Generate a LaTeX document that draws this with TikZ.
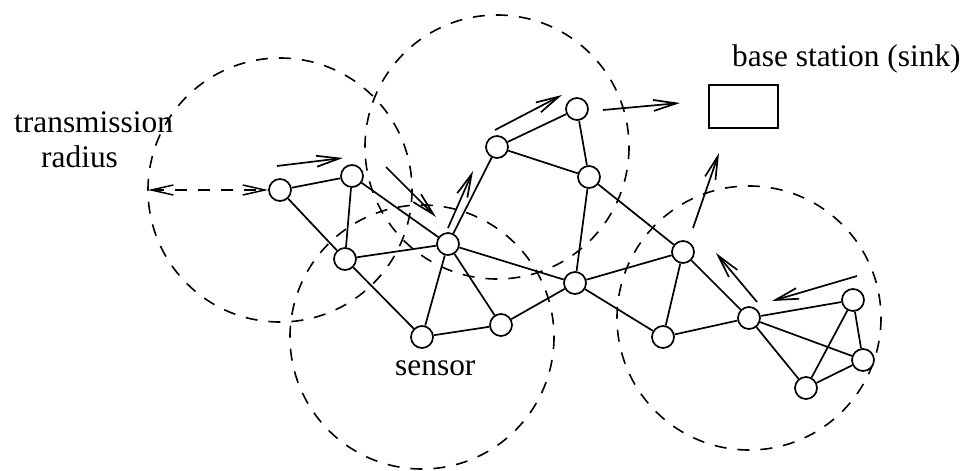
\documentclass[tikz,border=0pt]{standalone}
\usepackage{fontspec}
\setmainfont{Liberation Serif}
\usetikzlibrary{arrows.meta,backgrounds}
\begin{document}
\begin{tikzpicture}[x=1pt,y=-1pt,
  sensornode/.style={circle,draw,fill=white,line width=1.7pt,minimum size=22pt,inner sep=0pt},
  link/.style={line width=1.7pt},
  radiuscircle/.style={line width=1.6pt,dash pattern=on 12pt off 11pt},
  flow/.style={line width=1.7pt,-{Straight Barb[length=23pt,width=11pt]}},
  radiusarrow/.style={line width=1.5pt,dash pattern=on 12pt off 11pt,{Straight Barb[length=22pt,width=10pt]}-{Straight Barb[length=22pt,width=10pt]}},
  lbl/.style={font=\fontsize{31.4}{35}\selectfont,inner sep=0pt}]
\useasboundingbox (0,0) rectangle (967,471);

% sensors
\node[sensornode] (A) at (280,190) {};
\node[sensornode] (B) at (352,176) {};
\node[sensornode] (C) at (345,259) {};
\node[sensornode] (D) at (448,244) {};
\node[sensornode] (E) at (497,147) {};
\node[sensornode] (F) at (577,109) {};
\node[sensornode] (G) at (589,177) {};
\node[sensornode] (H) at (422,337) {};
\node[sensornode] (I) at (501,325) {};
\node[sensornode] (J) at (575,283) {};
\node[sensornode] (K) at (683,252) {};
\node[sensornode] (L) at (663,337) {};
\node[sensornode] (M) at (749,318) {};
\node[sensornode] (N) at (853,300) {};
\node[sensornode] (O) at (863,360) {};
\node[sensornode] (P) at (806,388) {};

% base station
\node[draw,line width=1.7pt,minimum width=69pt,minimum height=43pt,inner sep=0pt] (S) at (743.5,106.5) {};

% transmission ranges
\begin{scope}[on background layer]
\draw[radiuscircle] (A) circle[radius=132];
\draw[radiuscircle] (E) circle[radius=132];
\draw[radiuscircle] (H) circle[radius=132];
\draw[radiuscircle] (M) circle[radius=132];
\end{scope}

% links
\foreach \u/\v in {A/B,A/C,B/C,B/D,C/D,C/H,D/H,D/I,D/E,D/J,E/F,E/G,F/G,G/J,G/K,H/I,I/J,J/K,J/L,K/L,K/M,L/M,M/N,M/O,M/P,N/O,N/P,O/P}
  \draw[link] (\u) -- (\v);

% flow arrows
\coordinate (f1s) at (277,166); \coordinate (f1e) at (343,158);
\coordinate (f2s) at (386,167); \coordinate (f2e) at (436,217);
\coordinate (f3s) at (448,228); \coordinate (f3e) at (473,171);
\coordinate (f4s) at (495,130); \coordinate (f4e) at (562,95);
\coordinate (f5s) at (603,110); \coordinate (f5e) at (680,103);
\coordinate (f6s) at (693,228); \coordinate (f6e) at (719,153);
\coordinate (f7s) at (757,302); \coordinate (f7e) at (716,253);
\coordinate (f8s) at (857,276); \coordinate (f8e) at (772,301);
\foreach \i in {1,...,8}
  \draw[flow] (f\i s) -- (f\i e);

% radius indicator
\coordinate (rl) at (148,190);
\draw[radiusarrow] (rl) -- (A);

% labels
\node[lbl,anchor=base west] (bs) at (732,66) {base station (sink)};
\node[lbl,anchor=base west,align=left] (tr) at (14,167) {transmission\\\hspace*{27pt}radius};
\node[lbl,anchor=base west] (sn) at (395,375) {sensor};
\end{tikzpicture}
\end{document}
